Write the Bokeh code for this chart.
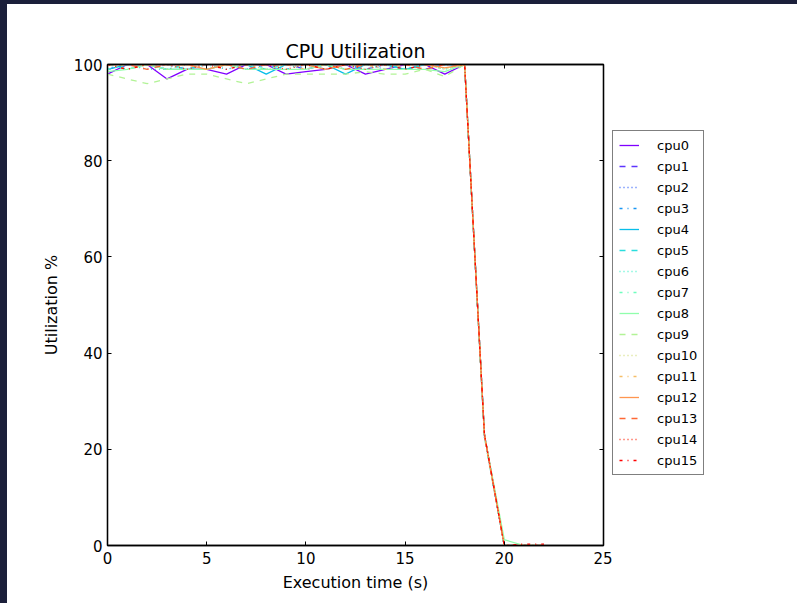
import math
from bokeh.plotting import figure
from bokeh.models import Legend, LegendItem, LinearAxis, FixedTicker, Range1d
from bokeh.layouts import row
from bokeh.embed import file_html
from bokeh.resources import INLINE

# ---- data ----
time_s = list(range(23))
cpu0 = [98, 100, 100, 97, 99, 99, 98, 100, 100, 98, 98.5, 99, 100, 98, 99, 100, 100, 98, 100, 23, 0, 0, 0]
cpu1 = [99, 100, 100, 100, 99, 100, 100, 99, 100, 100, 99, 100, 100, 99, 100, 100, 99, 100, 100, 23, 0, 0, 0]
cpu2 = [100, 100, 99, 100, 100, 100, 99, 100, 100, 100, 99, 100, 100, 100, 99, 100, 100, 100, 100, 23, 0, 0, 0]
cpu3 = [99, 100, 100, 99, 100, 100, 100, 99, 100, 99, 100, 100, 99, 100, 100, 99, 100, 100, 100, 22.5, 0, 0, 0]
cpu4 = [99, 100, 100, 99, 99, 99, 100, 100, 98, 100, 100, 100, 98, 100, 100, 99, 100, 100, 100, 23, 0, 0, 0]
cpu5 = [100, 99, 100, 100, 99, 100, 100, 100, 99, 100, 100, 99, 100, 100, 100, 99, 100, 100, 100, 23, 0, 0, 0]
cpu6 = [100, 100, 99, 99, 100, 100, 99, 100, 100, 100, 99, 100, 100, 99, 100, 100, 100, 99, 100, 22.5, 0, 0, 0]
cpu7 = [99, 100, 100, 100, 99, 99, 100, 100, 99, 100, 100, 99, 100, 100, 99, 100, 100, 99, 100, 23, 0, 0, 0]
cpu8 = [98.5, 99, 100, 99, 99, 99, 100, 99, 99, 99, 99, 100, 99, 99, 99, 99, 99, 98.5, 100, 23, 1.2, 0, 0]
cpu9 = [98, 97, 96, 97, 98, 98, 97, 96, 97, 98, 98, 98, 98, 98.5, 98, 98, 99, 97.5, 100, 22.5, 0, 0, 0]
cpu10 = [100, 100, 100, 99, 100, 100, 100, 100, 99, 100, 100, 100, 99, 100, 100, 100, 100, 99, 100, 23, 0, 0, 0]
cpu11 = [100, 99, 100, 100, 100, 99, 100, 100, 100, 100, 99, 100, 100, 100, 99, 100, 100, 100, 100, 23, 0, 0, 0]
cpu12 = [100, 100, 100, 100, 100, 99, 100, 100, 100, 100, 100, 99, 100, 100, 100, 100, 100, 99.3, 100, 23, 0, 0, 0]
cpu13 = [100, 100, 99, 100, 100, 100, 100, 99, 100, 100, 100, 100, 99, 100, 100, 100, 99, 100, 100, 23, 0, 0, 0]
cpu14 = [100, 100, 100, 100, 99, 100, 100, 100, 100, 99, 100, 100, 100, 99, 100, 100, 100, 100, 100, 23, 0, 0, 0]
cpu15 = [100, 99, 100, 100, 100, 100, 99, 100, 100, 100, 100, 99, 100, 100, 100, 99, 100, 100, 100, 23, 0, 0.3, 0.3]

series = [cpu0, cpu1, cpu2, cpu3, cpu4, cpu5, cpu6, cpu7,
          cpu8, cpu9, cpu10, cpu11, cpu12, cpu13, cpu14, cpu15]
names = ["cpu%d" % i for i in range(16)]
x_ticks = [0, 5, 10, 15, 20, 25]
y_ticks = [0, 20, 40, 60, 80, 100]

# ---- styles ----
FONT = "DejaVu Sans"
DASHES = ["solid", "6 6", "1 3", "3 5 1 5"]


def rainbow(x):
    r = min(1.0, abs(2 * x - 0.5))
    g = max(0.0, math.sin(math.pi * x))
    b = max(0.0, math.cos(math.pi * x / 2))
    return "#%02x%02x%02x" % (round(r * 255), round(g * 255), round(b * 255))


p = figure(width=605, height=599,
           output_backend="svg", toolbar_location=None,
           x_range=Range1d(0, 25), y_range=Range1d(0, 100),
           min_border_left=100, min_border_right=9,
           min_border_top=60, min_border_bottom=58,
           margin=(4, 0, 0, 7))
p.background_fill_color = "white"
p.border_fill_color = "white"
p.outline_line_color = "black"
p.outline_line_width = 1.3
p.xgrid.visible = False
p.ygrid.visible = False

p.title.text = "CPU Utilization"
p.title.align = "center"
p.title.text_font = FONT
p.title.text_font_size = "19px"
p.title.text_font_style = "normal"
p.title.text_color = "black"
p.title.standoff = 6

for ax in (p.xaxis[0], p.yaxis[0]):
    ax.major_tick_in = 4
    ax.major_tick_out = 0
    ax.minor_tick_in = 0
    ax.minor_tick_out = 0
    ax.axis_line_color = "black"
    ax.axis_line_width = 1.3
    ax.major_tick_line_color = "black"
    ax.major_label_text_font = FONT
    ax.major_label_text_font_size = "15px"
    ax.major_label_text_color = "black"
    ax.axis_label_text_font = FONT
    ax.axis_label_text_font_size = "16px"
    ax.axis_label_text_font_style = "normal"
    ax.axis_label_text_color = "black"

p.xaxis[0].ticker = FixedTicker(ticks=x_ticks)
p.yaxis[0].ticker = FixedTicker(ticks=y_ticks)
p.xaxis[0].axis_label = "Execution time (s)"
p.yaxis[0].axis_label = "Utilization %"
p.xaxis[0].major_label_standoff = 6
p.yaxis[0].major_label_standoff = 5
p.xaxis[0].axis_label_standoff = 6
p.yaxis[0].axis_label_standoff = 10

for loc, ticks in (("above", x_ticks), ("right", y_ticks)):
    ax = LinearAxis(ticker=FixedTicker(ticks=ticks))
    ax.major_tick_in = 4
    ax.major_tick_out = 0
    ax.minor_tick_in = 0
    ax.minor_tick_out = 0
    ax.major_label_overrides = {t: "" for t in ticks}
    ax.major_label_standoff = 0
    ax.axis_line_color = "black"
    ax.axis_line_width = 1.3
    p.add_layout(ax, loc)

# legend panel figure (to the right of the plot)
q = figure(width=185, height=599, output_backend="svg", toolbar_location=None,
           x_axis_type=None, y_axis_type=None,
           x_range=Range1d(0, 25), y_range=Range1d(0, 100),
           min_border=0, margin=(4, 0, 0, 0))
q.outline_line_color = None
q.background_fill_color = "white"
q.border_fill_color = "white"
q.xgrid.visible = False
q.ygrid.visible = False

items = []
n = len(series)
for i, (name, vals) in enumerate(zip(names, series)):
    color = rainbow(i / (n - 1))
    p.line(time_s, vals, line_color=color,
           line_width=1.3, line_dash=DASHES[i % 4])
    sample = q.line(time_s, vals, line_color=color, line_width=1.3,
                    line_dash=DASHES[i % 4], visible=False)
    items.append(LegendItem(label=name, renderers=[sample]))

legend = Legend(items=items, location=(0, 70))
legend.label_text_font = FONT
legend.label_text_font_size = "13px"
legend.label_text_color = "black"
legend.glyph_width = 20
legend.glyph_height = 16
legend.label_height = 16
legend.spacing = 5
legend.padding = 6
legend.label_standoff = 18
legend.margin = 0
legend.border_line_color = "black"
legend.border_line_width = 1.2
legend.background_fill_color = "white"
legend.background_fill_alpha = 1.0
q.add_layout(legend)

page = row(p, q, styles={"background-color": "white",
                         "box-shadow": "inset 7px 4px 0 0 #1b1f3a"})

open("out.html", "w").write(file_html(page, INLINE))
